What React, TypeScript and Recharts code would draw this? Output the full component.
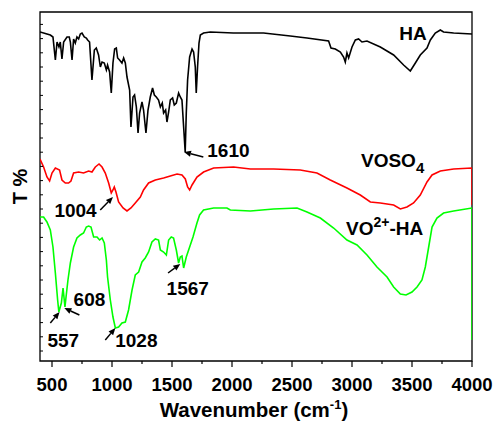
import type { ReactNode } from "react";
import {
    LineChart,
    Line,
    XAxis,
    YAxis,
    ReferenceArea,
    ReferenceLine,
    ReferenceDot,
} from "recharts";

// [wavenumber (cm-1), transmittance (arbitrary, offset per trace)]
const haSpectrum: [number, number][] = [
    [400, 329], [430, 328], [458, 327], [486, 326], [508, 324], [528, 301], [542, 319], [558, 314],
    [569, 319], [583, 302], [597, 319], [625, 324], [644, 324], [653, 319], [667, 301], [680, 322],
    [694, 318], [708, 324], [722, 322], [736, 327], [750, 328], [769, 324], [786, 323], [797, 321],
    [813, 319], [833, 281], [853, 311], [869, 313], [888, 306], [903, 294], [917, 299], [936, 298],
    [953, 291], [963, 296], [980, 289], [994, 268], [1008, 298], [1022, 312], [1036, 313], [1047, 303],
    [1063, 301], [1083, 298], [1097, 303], [1111, 298], [1125, 284], [1147, 271], [1158, 234], [1175, 264],
    [1188, 266], [1203, 254], [1217, 228], [1230, 248], [1250, 259], [1263, 251], [1283, 228], [1300, 251],
    [1319, 264], [1338, 273], [1353, 266], [1369, 264], [1388, 261], [1403, 254], [1419, 258], [1430, 248],
    [1447, 251], [1458, 239], [1472, 249], [1486, 261], [1505, 263], [1519, 256], [1536, 258], [1555, 268],
    [1569, 264], [1583, 261], [1597, 234], [1610, 209], [1619, 248], [1630, 281], [1647, 304], [1667, 312],
    [1680, 309], [1694, 294], [1702, 268], [1713, 294], [1725, 318], [1736, 326], [1763, 328], [1819, 329],
    [2011, 328], [2069, 328], [2153, 328], [2263, 328], [2486, 325], [2625, 323], [2805, 320], [2825, 313],
    [2861, 312], [2903, 309], [2930, 304], [2944, 299], [2958, 308], [2972, 303], [3000, 314], [3028, 321],
    [3055, 322], [3083, 319], [3125, 320], [3236, 314], [3347, 306], [3430, 296], [3486, 290], [3528, 298],
    [3569, 306], [3625, 313], [3653, 321], [3694, 328], [3736, 331], [3763, 329], [3847, 328], [4000, 327],
];

const vosoSpectrum: [number, number][] = [
    [400, 202], [430, 194], [458, 184], [480, 180], [500, 188], [528, 193], [563, 191], [583, 181],
    [611, 178], [638, 178], [658, 180], [680, 188], [722, 189], [763, 188], [805, 190], [833, 189],
    [861, 194], [892, 197], [917, 194], [944, 188], [972, 178], [994, 168], [1008, 171], [1019, 174],
    [1033, 169], [1055, 159], [1092, 153], [1125, 150], [1158, 153], [1194, 158], [1236, 164], [1263, 171],
    [1305, 178], [1361, 181], [1430, 183], [1486, 185], [1542, 187], [1583, 186], [1611, 182], [1630, 174],
    [1647, 171], [1667, 176], [1708, 184], [1763, 189], [1847, 193], [2013, 194], [2153, 192], [2347, 192],
    [2569, 191], [2708, 188], [2819, 181], [2958, 173], [3069, 166], [3153, 159], [3236, 158], [3347, 156],
    [3403, 152], [3458, 154], [3513, 158], [3569, 166], [3625, 179], [3667, 186], [3736, 190], [3847, 192],
    [4000, 193], [4000, 156],
];

const voHaSpectrum: [number, number][] = [
    [400, 144], [430, 144], [458, 139], [486, 131], [508, 114], [528, 88], [547, 61], [557, 49],
    [578, 58], [592, 73], [608, 54], [617, 64], [633, 81], [653, 98], [680, 114], [708, 123],
    [736, 126], [763, 128], [786, 134], [805, 135], [825, 134], [847, 124], [875, 124], [897, 121],
    [917, 123], [936, 118], [953, 101], [963, 84], [986, 61], [1008, 44], [1028, 33], [1055, 34],
    [1083, 38], [1111, 39], [1138, 51], [1167, 71], [1194, 86], [1222, 89], [1250, 99], [1277, 103],
    [1305, 109], [1333, 119], [1361, 122], [1388, 121], [1403, 111], [1430, 109], [1453, 106], [1472, 121],
    [1494, 124], [1513, 123], [1536, 111], [1555, 98], [1569, 104], [1583, 105], [1597, 93], [1619, 104],
    [1647, 114], [1675, 124], [1708, 138], [1730, 146], [1763, 151], [1847, 153], [1958, 153], [1986, 151],
    [2153, 150], [2347, 152], [2542, 153], [2625, 149], [2736, 143], [2847, 133], [2958, 121], [3042, 116],
    [3125, 106], [3208, 94], [3292, 84], [3347, 74], [3403, 67], [3450, 66], [3500, 69], [3542, 74],
    [3583, 81], [3611, 94], [3639, 114], [3667, 134], [3708, 143], [3763, 148], [3847, 150], [4000, 153],
    [4000, 21],
];

const xTicks = [500, 750, 1000, 1250, 1500, 1750, 2000, 2250, 2500, 2750, 3000, 3250, 3500, 3750, 4000];
const yTicks = [
    10, 24.2, 38.4, 52.6, 66.8, 81, 95.2, 109.4, 123.6, 137.8, 152, 166.2,
    180.4, 194.6, 208.8, 223, 237.2, 251.4, 265.6, 279.8, 294, 308.2, 322.4, 336.6,
];

// peak arrows: tail -> head, in (wavenumber, T)
const peakArrows = [
    { label: "1610", from: [1761, 204], to: [1600, 209], text: [1794, 204] },
    { label: "1004", from: [902, 151], to: [1008, 164], text: [520, 144] },
    { label: "608", from: [728, 46], to: [603, 53], text: [680, 55] },
    { label: "557", from: [486, 38], to: [563, 49], text: [462, 14] },
    { label: "1028", from: [944, 21], to: [1028, 33], text: [1027, 14] },
    { label: "1567", from: [1467, 88], to: [1569, 97], text: [1455, 66] },
];

const FONT = "Arial, 'Liberation Sans', Helvetica, sans-serif";
const textStyle = { fontFamily: FONT, fontWeight: 700, fontSize: 19, fill: "#000" };

const toPoints = (pairs: [number, number][]) => pairs.map(([wn, t]) => ({ wn, t }));

const XTick = (props: any) => {
    const { x, y, payload } = props;
    const major = payload.value % 500 === 0;
    return (
        <g>
            <line x1={x} y1={y} x2={x} y2={y + (major ? 6 : 3)} stroke="#000" strokeWidth={1.2} />
            {major && (
                <text x={x} y={y + 30} textAnchor="middle" style={{ ...textStyle, fontSize: 18.5 }}>
                    {payload.value}
                </text>
            )}
        </g>
    );
};

const YTick = (props: any) => {
    const { x, y } = props;
    return <line x1={x} y1={y} x2={x + 3} y2={y} stroke="#000" strokeWidth={1} />;
};

const Arrow = (props: any) => {
    const { x1, y1, x2, y2 } = props;
    const a = Math.atan2(y2 - y1, x2 - x1);
    const len = 7;
    const half = 3;
    const bx = x2 - len * Math.cos(a);
    const by = y2 - len * Math.sin(a);
    const p1 = `${bx + half * Math.sin(a)},${by - half * Math.cos(a)}`;
    const p2 = `${bx - half * Math.sin(a)},${by + half * Math.cos(a)}`;
    return (
        <g>
            <line x1={x1} y1={y1} x2={bx} y2={by} stroke="#000" strokeWidth={1.5} />
            <polygon points={`${x2},${y2} ${p1} ${p2}`} fill="#000" />
        </g>
    );
};

const textAt = (content: ReactNode) => (props: any) => (
    <text x={props.cx} y={props.cy} style={textStyle}>
        {content}
    </text>
);

const XTitle = (props: any) => {
    const { viewBox } = props;
    const cx = viewBox.x + viewBox.width / 2 - 2;
    return (
        <text x={cx} y={viewBox.y + 56} textAnchor="middle" style={{ ...textStyle, fontSize: 20.5 }}>
            Wavenumber (cm
            <tspan dy={-8} fontSize={13}>-1</tspan>
            <tspan dy={8}>)</tspan>
        </text>
    );
};

export default function App() {
    return (
        <div style={{ width: 494, height: 425 }}>
            <style>{"body{margin:0}"}</style>
            <LineChart width={494} height={425} margin={{ top: 12, right: 22, bottom: 0, left: 0 }}>
                <XAxis
                    type="number"
                    dataKey="wn"
                    domain={[400, 4000]}
                    ticks={xTicks}
                    interval={0}
                    allowDataOverflow
                    height={64}
                    axisLine={false}
                    tickLine={false}
                    tickSize={0}
                    tickMargin={0}
                    tick={<XTick />}
                    label={{ content: <XTitle /> }}
                />
                <YAxis
                    type="number"
                    dataKey="t"
                    domain={[0, 349]}
                    ticks={yTicks}
                    interval={0}
                    allowDataOverflow
                    width={40}
                    axisLine={false}
                    tickLine={false}
                    tickSize={0}
                    tickMargin={0}
                    tick={<YTick />}
                    label={{ value: "T %", angle: -90, position: "center", style: { ...textStyle, fontSize: 20 } }}
                />

                <ReferenceArea x1={400} x2={4000} y1={0} y2={349} fill="none" stroke="#000" strokeWidth={1.3} ifOverflow="visible" />

                <Line data={toPoints(haSpectrum)} dataKey="t" stroke="#000000" strokeWidth={1.6} dot={false} isAnimationActive={false} />
                <Line data={toPoints(vosoSpectrum)} dataKey="t" stroke="#ff0000" strokeWidth={1.6} dot={false} isAnimationActive={false} />
                <Line data={toPoints(voHaSpectrum)} dataKey="t" stroke="#00ff00" strokeWidth={1.6} dot={false} isAnimationActive={false} />

                {peakArrows.map((p) => (
                    <ReferenceLine
                        key={"arrow" + p.label}
                        segment={[{ x: p.from[0], y: p.from[1] }, { x: p.to[0], y: p.to[1] }]}
                        shape={<Arrow />}
                        ifOverflow="visible"
                    />
                ))}
                {peakArrows.map((p) => (
                    <ReferenceDot key={"lbl" + p.label} x={p.text[0]} y={p.text[1]} r={0} shape={textAt(p.label)} ifOverflow="visible" />
                ))}

                <ReferenceDot x={3394} y={321} r={0} shape={textAt("HA")} ifOverflow="visible" />
                <ReferenceDot
                    x={3075}
                    y={194}
                    r={0}
                    ifOverflow="visible"
                    shape={textAt(<>VOSO<tspan dy={6} fontSize={15}>4</tspan></>)}
                />
                <ReferenceDot
                    x={2950}
                    y={126}
                    r={0}
                    ifOverflow="visible"
                    shape={textAt(<>VO<tspan dy={-8} fontSize={14}>2+</tspan><tspan dy={8}>-HA</tspan></>)}
                />
            </LineChart>
        </div>
    );
}
